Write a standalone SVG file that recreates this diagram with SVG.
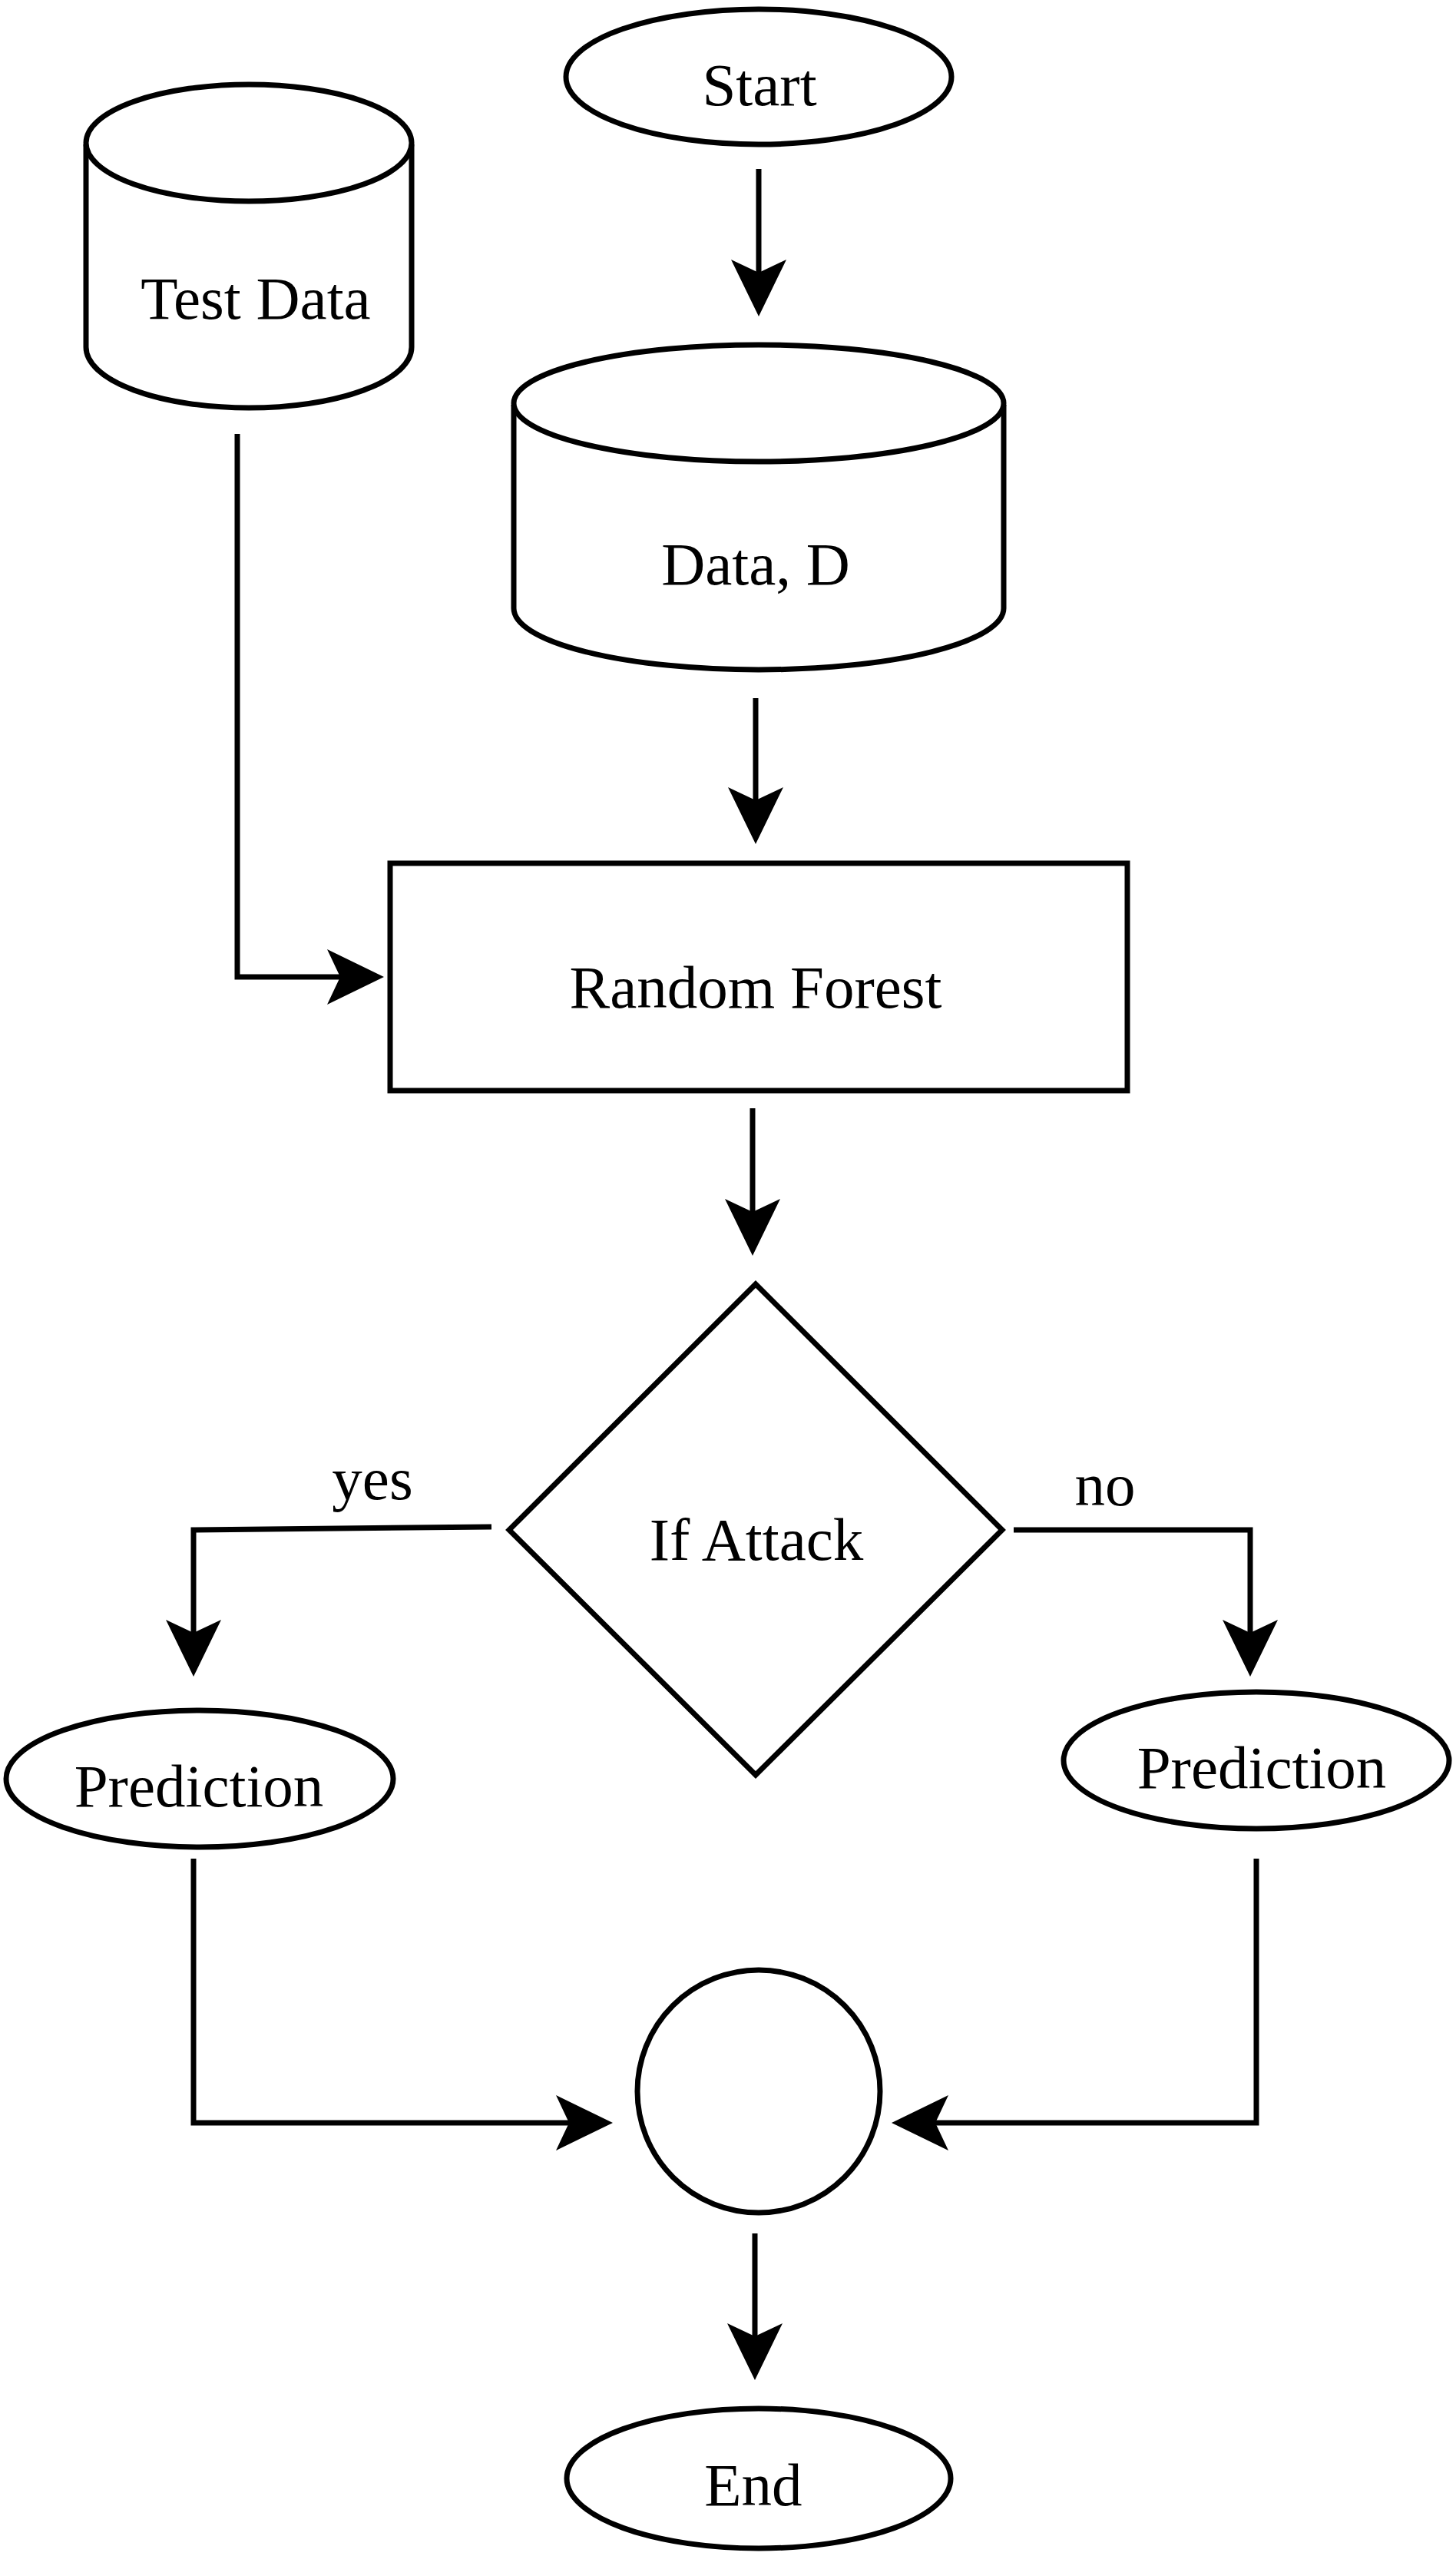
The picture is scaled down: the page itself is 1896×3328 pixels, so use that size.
<svg xmlns="http://www.w3.org/2000/svg" width="1896" height="3328" viewBox="0 0 1896 3328">
<style>
.shape{fill:#fff;stroke:#000;stroke-width:7}
.edge{fill:none;stroke:#000;stroke-width:7;stroke-linejoin:miter}
.lbl{font-family:"Liberation Serif","Times New Roman",serif;font-size:79px;fill:#000;text-anchor:middle}
</style>
<defs>
<marker id="ah" viewBox="0 0 74 72" refX="17" refY="36" markerWidth="74" markerHeight="72" markerUnits="userSpaceOnUse" orient="auto">
<path d="M0,0 L74,36 L0,72 L17,36 Z" fill="#000"/>
</marker>
</defs>
<rect width="1896" height="3328" fill="#fff"/>
<g id="start">
<ellipse class="shape" cx="988" cy="100" rx="251" ry="88"/>
<text class="lbl" x="989" y="137">Start</text>
</g>
<g id="test-data">
<path class="shape" d="M112,188 L112,452 A212,79 0 0,0 536,452 L536,188"/>
<ellipse class="shape" cx="324" cy="186" rx="212" ry="76"/>
<text class="lbl" x="333" y="415">Test Data</text>
</g>
<g id="data-d">
<path class="shape" d="M669,527 L669,792 A319,80 0 0,0 1307,792 L1307,527"/>
<ellipse class="shape" cx="988" cy="525" rx="319" ry="76"/>
<text class="lbl" x="984" y="761">Data, D</text>
</g>
<g id="random-forest">
<rect class="shape" x="508" y="1124" width="960" height="296"/>
<text class="lbl" x="984" y="1312">Random Forest</text>
</g>
<g id="if-attack">
<polygon class="shape" points="984,1672 1305,1992 984,2311 663,1992"/>
<text class="lbl" x="985" y="2031">If Attack</text>
</g>
<g id="prediction-yes">
<ellipse class="shape" cx="260" cy="2316" rx="252" ry="89"/>
<text class="lbl" x="259" y="2352">Prediction</text>
</g>
<g id="prediction-no">
<ellipse class="shape" cx="1636" cy="2292" rx="251" ry="89"/>
<text class="lbl" x="1643" y="2328">Prediction</text>
</g>
<g id="merge">
<circle class="shape" cx="988" cy="2723" r="158"/>
</g>
<g id="end">
<ellipse class="shape" cx="988" cy="3227" rx="250" ry="91"/>
<text class="lbl" x="981" y="3262">End</text>
</g>
<g id="connectors">
<path class="edge" marker-end="url(#ah)" d="M988,220 L988,355"/>
<path class="edge" marker-end="url(#ah)" d="M309,565 L309,1272 L443,1272"/>
<path class="edge" marker-end="url(#ah)" d="M984,909 L984,1042"/>
<path class="edge" marker-end="url(#ah)" d="M980,1443 L980,1578"/>
<path class="edge" marker-end="url(#ah)" d="M640,1988 L252,1992 L252,2126"/>
<path class="edge" marker-end="url(#ah)" d="M1320,1992 L1628,1992 L1628,2126"/>
<path class="edge" marker-end="url(#ah)" d="M252,2420 L252,2764 L741,2764"/>
<path class="edge" marker-end="url(#ah)" d="M1636,2420 L1636,2764 L1218,2764"/>
<path class="edge" marker-end="url(#ah)" d="M983,2908 L983,3042"/>
<text class="lbl" x="485" y="1952">yes</text>
<text class="lbl" x="1439" y="1960">no</text>
</g>
</svg>
